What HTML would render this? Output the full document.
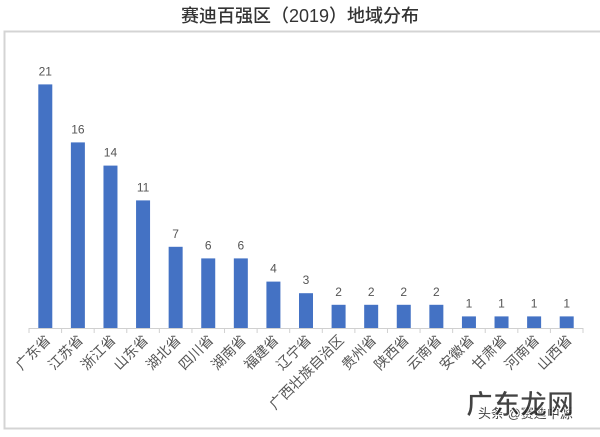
<!DOCTYPE html>
<html><head><meta charset="utf-8"><style>
body{margin:0;width:600px;height:432px;background:#fff;overflow:hidden}
</style></head><body>
<svg width="600" height="432" xmlns="http://www.w3.org/2000/svg" font-family="Liberation Sans, Noto Sans CJK SC, sans-serif">
<rect x="0" y="0" width="600" height="432" fill="#fff"/>
<text x="300" y="22" text-anchor="middle" font-size="18" font-weight="500" fill="#333">赛迪百强区（2019）地域分布</text>
<rect x="4.5" y="31.5" width="600" height="397" fill="none" stroke="#d4d4d4" stroke-width="2"/>
<line x1="29" y1="328.5" x2="583" y2="328.5" stroke="#d0d0d0"/>
<g id="bars"></g>
<text x="478" y="418" font-size="13" fill="#444">头条 @赛迪中源</text>
<text x="466" y="414" font-size="27" font-weight="bold" fill="#222" fill-opacity="0.85" stroke="#fff" stroke-width="0.8">广东龙网</text>
</svg>
<script>
const names=["广东省","江苏省","浙江省","山东省","湖北省","四川省","湖南省","福建省","辽宁省","广西壮族自治区","贵州省","陕西省","云南省","安徽省","甘肃省","河南省","山西省"];
const vals=[21,16,14,11,7,6,6,4,3,2,2,2,2,1,1,1,1];
const g=document.getElementById('bars');let h='';
const w=554/17;
for(let i=0;i<=17;i++){const x=29+i*w;h+=`<line x1="${x}" y1="328" x2="${x}" y2="333" stroke="#d0d0d0"/>`;}
vals.forEach((v,i)=>{const cx=29+(i+0.5)*w;const top=328-v*11.6;
h+=`<rect x="${cx-7}" y="${top}" width="14" height="${328-top}" fill="#4472c4"/>`;
h+=`<text x="${cx}" y="${top-9}" text-anchor="middle" font-size="12" fill="#555">${v}</text>`;
h+=`<text transform="translate(${cx+6},${341}) rotate(-45)" text-anchor="end" font-size="14" fill="#555">${names[i]}</text>`;});
g.innerHTML=h;
</script>
</body></html>
